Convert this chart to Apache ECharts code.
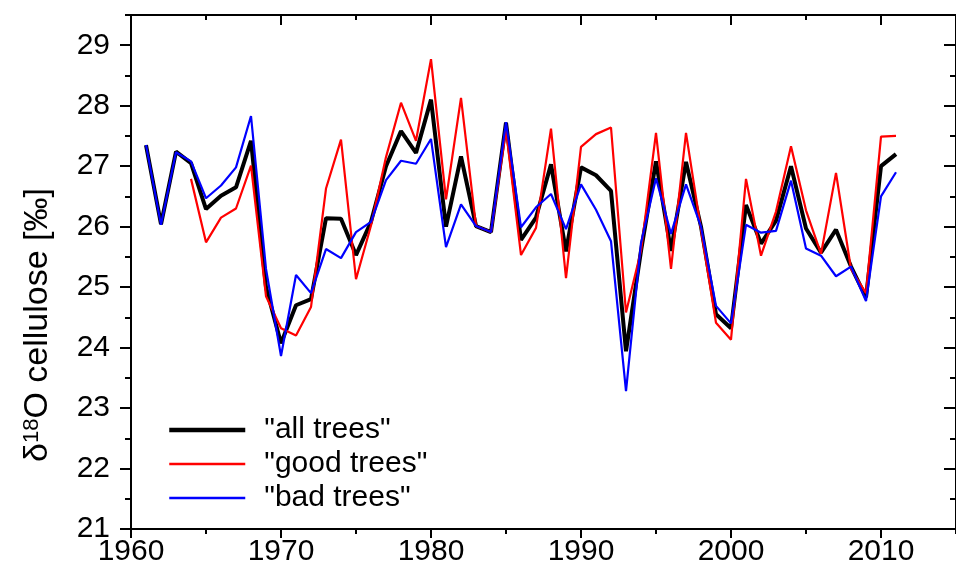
<!DOCTYPE html>
<html>
<head>
<meta charset="utf-8">
<script src="https://cdn.jsdelivr.net/npm/echarts@6/dist/echarts.min.js"></script>
<style>
html,body{margin:0;padding:0;background:#fff;}
#chart{width:956px;height:570px;}
</style>
</head>
<body>
<div id="chart"></div>
<script>
const years = [1961,1962,1963,1964,1965,1966,1967,1968,1969,1970,
  1971,1972,1973,1974,1975,1976,1977,1978,1979,1980,
  1981,1982,1983,1984,1985,1986,1987,1988,1989,1990,
  1991,1992,1993,1994,1995,1996,1997,1998,1999,2000,
  2001,2002,2003,2004,2005,2006,2007,2008,2009,2010,2011];

const allTrees = [27.35,26.04,27.24,27.05,26.29,26.51,26.65,27.42,25.0,24.07,
  24.7,24.8,26.14,26.13,25.53,26.08,27.0,27.58,27.22,28.1,
  26.0,27.16,26.01,25.91,27.72,25.78,26.15,27.03,25.59,26.98,
  26.85,26.59,23.94,25.6,27.08,25.6,27.07,26.0,24.55,24.32,
  26.36,25.72,26.1,27.0,25.97,25.57,25.95,25.34,24.83,27.0,27.2];

const goodTrees = [null,null,null,26.79,25.74,26.15,26.3,27.01,24.85,24.32,
  24.2,24.67,26.63,27.44,25.13,26.02,27.15,28.05,27.42,28.77,
  26.45,28.13,26.01,25.91,27.6,25.53,25.98,27.62,25.15,27.32,
  27.53,27.64,24.58,25.6,27.55,25.3,27.55,25.95,24.41,24.13,
  26.79,25.52,26.25,27.33,26.27,25.55,26.89,25.3,24.9,27.49,27.5];

const badTrees = [27.35,26.03,27.23,27.08,26.47,26.68,26.98,27.83,25.3,23.86,
  25.2,24.9,25.63,25.48,25.91,26.08,26.77,27.09,27.04,27.45,
  25.66,26.37,26.01,25.91,27.73,25.99,26.32,26.54,25.96,26.7,
  26.28,25.76,23.28,25.73,26.8,25.88,26.7,26.0,24.69,24.4,
  26.03,25.9,25.93,26.76,25.64,25.52,25.18,25.34,24.77,26.5,26.9];

const seriesNames = ['"all trees"', '"good trees"', '"bad trees"'];

const pair = arr => years.map((y, i) => [y, arr[i]]);

const FONT = '"Liberation Sans", Arial, sans-serif';
const axisLine = { show: true, onZero: false, lineStyle: { color: '#000', width: 2 } };

function xAx(pos, interval, len, inside, labels) {
  return {
    type: 'value', position: pos, min: 1960, max: 2015, interval: interval,
    axisLine: axisLine,
    axisTick: { show: true, inside: inside, length: len, lineStyle: { color: '#000', width: 2 } },
    axisLabel: labels ? { show: true, showMaxLabel: false, margin: 8, color: '#000', fontSize: 30, fontFamily: FONT,
      formatter: v => String(v) } : { show: false },
    splitLine: { show: false }
  };
}
function yAx(pos, interval, len, inside, labels) {
  return {
    type: 'value', position: pos, min: 21, max: 29.5, interval: interval,
    axisLine: axisLine,
    axisTick: { show: true, inside: inside, length: len, lineStyle: { color: '#000', width: 2 } },
    axisLabel: labels ? { show: true, showMaxLabel: false, margin: 21, color: '#000', fontSize: 30, fontFamily: FONT,
      formatter: v => String(v) } : { show: false },
    splitLine: { show: false }
  };
}

const colors = ['#000000', '#ff0000', '#0000ff'];
const widths = [4, 2.2, 2.2];

const chart = echarts.init(document.getElementById('chart'));
chart.setOption({
  animation: false,
  backgroundColor: '#fff',
  grid: { left: 131, top: 15, width: 831, height: 514, containLabel: false },
  xAxis: [
    xAx('bottom', 10, 9, false, true),
    xAx('bottom', 5, 5, false, false),
    xAx('top', 10, 10, true, false),
    xAx('top', 5, 5, true, false)
  ],
  yAxis: [
    yAx('left', 1, 11, false, true),
    yAx('left', 0.5, 6, false, false),
    yAx('right', 1, 12, true, false),
    yAx('right', 0.5, 6, true, false)
  ],
  legend: {
    show: true,
    orient: 'vertical',
    left: 167, top: 415,
    padding: 0,
    itemWidth: 76, itemHeight: 14,
    itemGap: 4,
    itemStyle: { opacity: 0, borderWidth: 0 },
    data: seriesNames.map((n, i) => ({ name: n, lineStyle: { color: colors[i], width: widths[i] + (i === 0 ? 0.5 : 0.5) } })),
    textStyle: { color: '#000', fontSize: 30, fontFamily: FONT, padding: [0, 0, 0, 14] }
  },
  graphic: [{
    type: 'text',
    x: 38, y: 325,
    rotation: Math.PI / 2,
    style: {
      text: '{a|δ}{s|18}{a|O cellulose [‰]}',
      align: 'center', verticalAlign: 'middle',
      fill: '#000',
      rich: {
        a: { fontSize: 34, fontFamily: FONT, fill: '#000' },
        s: { fontSize: 22, fontFamily: FONT, fill: '#000', verticalAlign: 'top', padding: [0, 0, 12, 0] }
      }
    }
  }],
  series: [
    { name: seriesNames[0], type: 'line', data: pair(allTrees), xAxisIndex: 0, yAxisIndex: 0,
      symbol: 'none', lineStyle: { color: colors[0], width: widths[0] }, itemStyle: { color: colors[0] }, z: 2 },
    { name: seriesNames[1], type: 'line', data: pair(goodTrees), xAxisIndex: 0, yAxisIndex: 0,
      symbol: 'none', lineStyle: { color: colors[1], width: widths[1] }, itemStyle: { color: colors[1] }, z: 3 },
    { name: seriesNames[2], type: 'line', data: pair(badTrees), xAxisIndex: 0, yAxisIndex: 0,
      symbol: 'none', lineStyle: { color: colors[2], width: widths[2] }, itemStyle: { color: colors[2] }, z: 4 }
  ]
});
</script>
</body>
</html>
